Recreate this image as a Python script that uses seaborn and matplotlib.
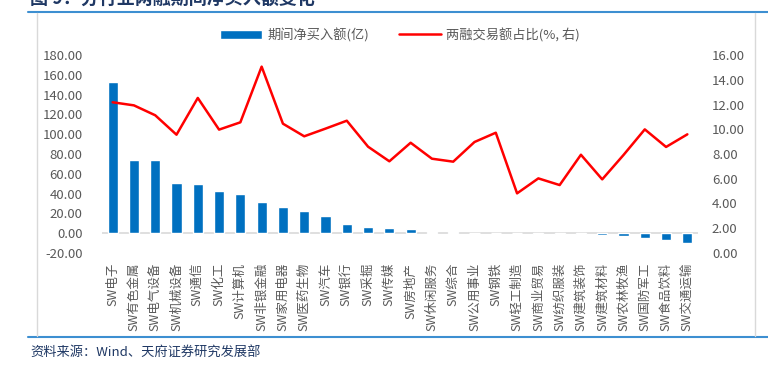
# Net buying by industry (margin trading) - bar + ratio line
import matplotlib.pyplot as plt
import matplotlib.lines as mlines
import pandas as pd
import seaborn as sns

# Data
industries = ['SW电子', 'SW有色金属', 'SW电气设备', 'SW机械设备', 'SW通信', 'SW化工',
              'SW计算机', 'SW非银金融', 'SW家用电器', 'SW医药生物', 'SW汽车', 'SW银行',
              'SW采掘', 'SW传媒', 'SW房地产', 'SW休闲服务', 'SW综合', 'SW公用事业',
              'SW钢铁', 'SW轻工制造', 'SW商业贸易', 'SW纺织服装', 'SW建筑装饰',
              'SW建筑材料', 'SW农林牧渔', 'SW国防军工', 'SW食品饮料', 'SW交通运输']
net_buy = [152.8, 74.4, 73.7, 50.5, 49.8, 42.7, 39.4, 31.6, 26.9, 22.2, 17.2, 9.1,
           6.1, 5.4, 4.5, 1.7, 0.8, 0.5, 0.3, -0.2, -1.0, -1.0, -1.2, -1.8, -3.0,
           -4.7, -7.1, -10.2]
ratio = [12.18, 11.93, 11.13, 9.56, 12.53, 9.97, 10.56, 15.06, 10.45, 9.43, 10.05,
         10.69, 8.59, 7.41, 8.91, 7.62, 7.38, 8.97, 9.72, 4.82, 6.03, 5.49, 7.94,
         5.95, 7.92, 9.99, 8.57, 9.59]
left_ticks = [-20, 0, 20, 40, 60, 80, 100, 120, 140, 160, 180]
right_ticks = [0, 2, 4, 6, 8, 10, 12, 14, 16]

df = pd.DataFrame({'industry': industries, 'net_buy': net_buy, 'ratio': ratio})

sns.set_style('white')
plt.rcParams['font.family'] = ['Noto Sans CJK SC', 'DejaVu Sans']

bar_color = '#0070C0'
text_gray = '#595959'
navy = '#1F3864'

fig = plt.figure(figsize=(7.68, 3.67), dpi=100)
ax = fig.add_axes([102 / 768, 1 - 253 / 367, 596 / 768, 198 / 367])

sns.barplot(data=df, x='industry', y='net_buy', color=bar_color, width=0.47,
            saturation=1, ax=ax, label='期间净买入额(亿)')
ax.axhline(0, color='#D9D9D9', lw=1.2, zorder=0)
ax.set_xlim(-0.5, len(industries) - 0.5)
ax.set_ylim(-20, 180)
ax.set_yticks(left_ticks)
ax.set_yticklabels([f'{v:.2f}' for v in left_ticks])
ax.set_xlabel('')
ax.set_ylabel('')

ax2 = ax.twinx()
sns.lineplot(x=df.index, y=df['ratio'], color='#FF0000', lw=1.8, ax=ax2,
             label='两融交易额占比(%, 右)')
ax2.set_ylim(0, 16)
ax2.set_yticks(right_ticks)
ax2.set_yticklabels([f'{v:.2f}' for v in right_ticks])
ax2.set_ylabel('')

for a in (ax, ax2):
    for s in a.spines.values():
        s.set_visible(False)
    a.tick_params(length=0, colors=text_gray, labelsize=9.5)
ax.tick_params(axis='y', pad=14)
ax2.tick_params(axis='y', pad=10)
ax.tick_params(axis='x', labelrotation=90, pad=7, labelsize=9)

# legend
h1, l1 = ax.get_legend_handles_labels()
h2, l2 = ax2.get_legend_handles_labels()
ax2.get_legend().remove()
if ax.get_legend():
    ax.get_legend().remove()
fig.legend(h1 + h2, l1 + l2, loc='center', bbox_to_anchor=(400 / 768, 1 - 35 / 367),
           ncol=2, frameon=False, fontsize=9.5, labelcolor=text_gray,
           handlelength=3.2, columnspacing=2.2, handletextpad=0.4)

# frame decorations
fig.add_artist(mlines.Line2D([28 / 768, 1], [1 - 12 / 367] * 2, color='#3D8FD1', lw=1.5))
fig.add_artist(mlines.Line2D([28 / 768, 1], [1 - 337 / 367] * 2, color='#3D8FD1', lw=1.5))
fig.add_artist(mlines.Line2D([37 / 768] * 2, [1 - 13 / 367, 1 - 336 / 367], color='#D9D9D9', lw=1))
fig.add_artist(mlines.Line2D([755 / 768] * 2, [1 - 13 / 367, 1 - 336 / 367], color='#D9D9D9', lw=1))

# titles
fig.text(30 / 768, 1 - 8 / 367, '图 9：分行业两融期间净买入额变化', fontsize=13,
         fontweight='bold', color=navy, va='bottom')
fig.text(30 / 768, 1 - 352 / 367, '资料来源：Wind、天府证券研究发展部', fontsize=9.5,
         color=navy, va='center')

fig.savefig('out.png', dpi=100)
